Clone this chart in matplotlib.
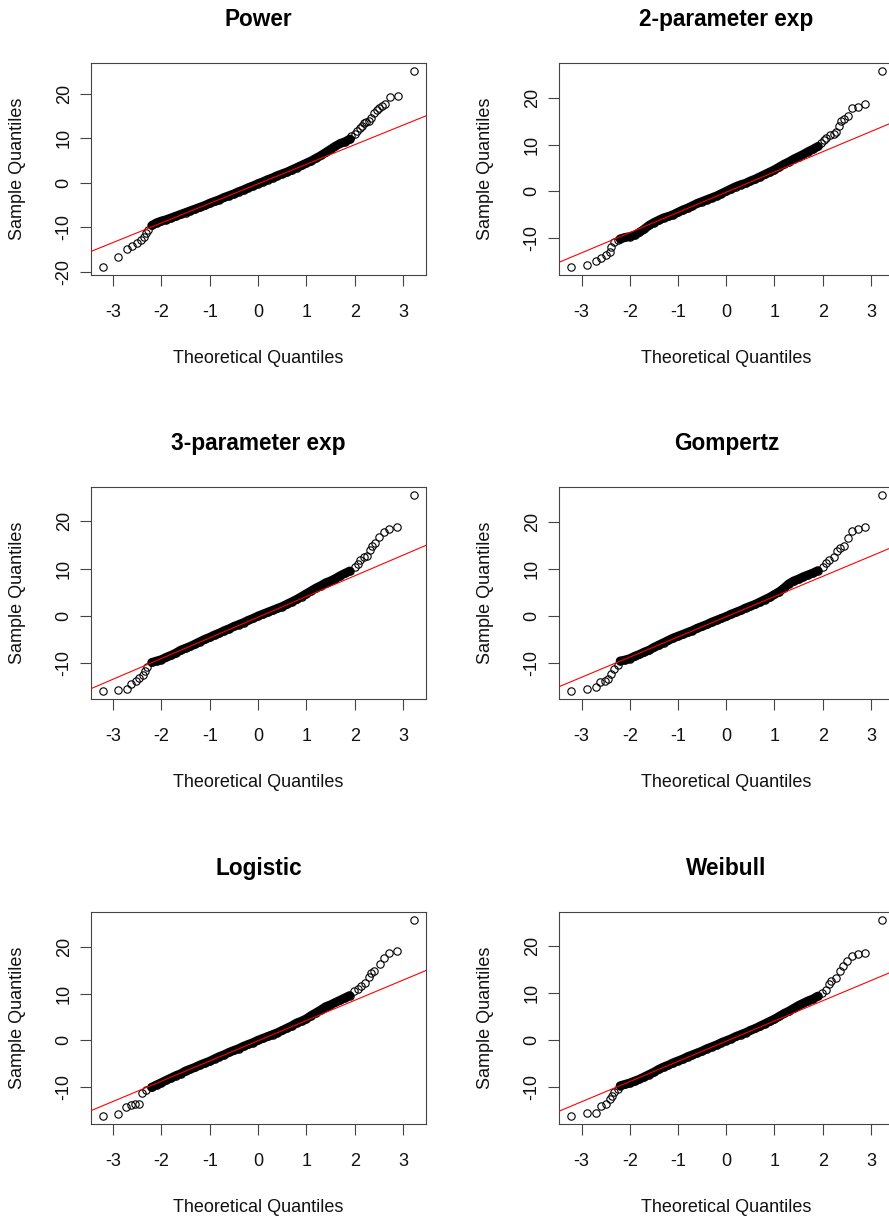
import matplotlib.pyplot as plt
from matplotlib.ticker import MultipleLocator

plt.rcParams["font.family"] = ["Liberation Sans", "DejaVu Sans"]
plt.rcParams["axes.unicode_minus"] = False

titles = ["Power", "2-parameter exp", "3-parameter exp",
          "Gompertz", "Logistic", "Weibull"]

# theoretical quantiles where the dense middle of each residual cloud is read
band_q = [-2.2, -2.1, -2.0, -1.9, -1.8, -1.7, -1.6, -1.5, -1.4, -1.3, -1.2,
          -1.1, -1.0, -0.9, -0.8, -0.7, -0.6, -0.5, -0.4, -0.3, -0.2, -0.1,
          0.0, 0.1, 0.2, 0.3, 0.4, 0.5, 0.6, 0.7, 0.8, 0.9, 1.0, 1.1, 1.2,
          1.3, 1.4, 1.5, 1.6, 1.7, 1.8, 1.9]

# Power
power_band = [-9.6, -9.0, -8.6, -8.3, -7.9, -7.5, -7.1, -6.7, -6.3, -5.9, -5.5,
              -5.1, -4.6, -4.2, -3.8, -3.3, -2.9, -2.5, -2.0, -1.6, -1.1, -0.7,
              -0.2, 0.2, 0.7, 1.1, 1.6, 2.0, 2.4, 2.9, 3.4, 3.9, 4.4, 4.9, 5.5,
              6.1, 6.8, 7.5, 8.2, 8.8, 9.2, 9.8]
power_q = [-3.20, -2.90, -2.72, -2.60, -2.50, -2.43, -2.37, -2.32, -2.27,
           1.93, 2.00, 2.05, 2.11, 2.14, 2.19, 2.24, 2.29, 2.33, 2.40, 2.46,
           2.51, 2.57, 2.62, 2.725, 2.884, 3.216]
power_y = [-18.95, -16.70, -14.91, -14.23, -13.48, -12.88, -12.13, -11.39, -10.64,
           10.5, 10.9, 11.6, 12.2, 12.8, 13.3, 13.7, 13.9, 14.5, 15.7, 16.2,
           16.7, 17.1, 17.6, 19.18, 19.55, 25.09]

# 2-parameter exponential
exp2_band = [-10.2, -9.9, -9.7, -9.4, -8.8, -8.1, -7.3, -6.7, -6.2, -5.7, -5.4,
             -5.0, -4.5, -4.0, -3.6, -3.1, -2.6, -2.2, -1.8, -1.4, -1.0, -0.5,
             0.0, 0.5, 1.0, 1.4, 1.7, 2.2, 2.6, 3.1, 3.6, 4.1, 4.6, 5.2, 5.8,
             6.3, 6.9, 7.4, 7.9, 8.5, 9.0, 9.6]
exp2_q = [-3.21, -2.89, -2.71, -2.59, -2.49, -2.42, -2.38, -2.32, -2.25,
          1.97, 2.02, 2.07, 2.16, 2.23, 2.28, 2.34, 2.38, 2.44, 2.52, 2.60,
          2.73, 2.875, 3.22]
exp2_y = [-16.25, -15.75, -15.03, -14.32, -13.60, -13.03, -11.95, -10.88, -10.38,
          10.24, 10.88, 11.45, 12.03, 12.31, 12.60, 14.03, 15.03, 15.46, 16.18, 17.75,
          18.11, 18.61, 25.77]

# 3-parameter exponential
exp3_band = [-9.8, -9.5, -9.2, -8.7, -8.3, -7.8, -7.2, -6.8, -6.4, -5.9, -5.4,
             -4.9, -4.5, -4.0, -3.6, -3.1, -2.7, -2.2, -1.8, -1.4, -0.9, -0.5,
             0.0, 0.4, 0.8, 1.2, 1.6, 2.0, 2.5, 3.0, 3.5, 4.1, 4.7, 5.3, 5.9,
             6.4, 7.0, 7.4, 7.9, 8.5, 9.0, 9.5]
exp3_q = [-3.20, -2.90, -2.72, -2.62, -2.53, -2.46, -2.39, -2.34, -2.29,
          2.01, 2.07, 2.12, 2.19, 2.26, 2.31, 2.36, 2.43, 2.50, 2.60, 2.72,
          2.88, 3.22]
exp3_y = [-15.85, -15.56, -15.42, -14.30, -13.73, -13.10, -12.39, -11.69, -10.77,
          10.35, 11.06, 11.90, 12.39, 12.75, 14.01, 14.72, 15.42, 16.69, 17.68, 18.38,
          18.80, 25.56]

# Gompertz
gomp_band = [-9.6, -9.4, -9.1, -8.6, -8.2, -7.7, -7.3, -6.7, -6.2, -5.7, -5.2,
             -4.7, -4.3, -3.9, -3.5, -3.1, -2.6, -2.2, -1.8, -1.3, -0.9, -0.5,
             -0.1, 0.4, 0.8, 1.2, 1.7, 2.1, 2.5, 3.0, 3.5, 4.0, 4.6, 5.2, 6.0,
             6.9, 7.5, 7.9, 8.4, 8.8, 9.2, 9.7]
gomp_q = [-3.21, -2.89, -2.71, -2.61, -2.52, -2.45, -2.38, -2.32, -2.25,
          2.00, 2.07, 2.14, 2.23, 2.29, 2.36, 2.44, 2.53, 2.60, 2.73, 2.875,
          3.22]
gomp_y = [-16.04, -15.54, -15.25, -14.11, -13.97, -13.40, -12.33, -11.33, -10.55,
          10.48, 11.33, 12.05, 12.62, 13.83, 14.54, 15.04, 16.68, 18.10, 18.67, 18.96,
          25.87]

# Logistic
logis_band = [-10.1, -9.6, -9.1, -8.6, -8.1, -7.6, -7.2, -6.6, -6.2, -5.8, -5.3,
              -4.9, -4.5, -4.0, -3.5, -3.1, -2.6, -2.2, -1.8, -1.3, -0.9, -0.5,
              0.0, 0.4, 0.8, 1.2, 1.6, 2.1, 2.6, 3.1, 3.7, 4.1, 4.6, 5.3, 5.9,
              6.5, 7.2, 7.6, 8.1, 8.6, 9.1, 9.6]
logis_q = [-3.20, -2.90, -2.73, -2.63, -2.55, -2.46, -2.41, -2.32, -2.22,
           1.98, 2.07, 2.14, 2.22, 2.29, 2.34, 2.41, 2.52, 2.60, 2.72, 2.88,
           3.22]
logis_y = [-16.30, -15.79, -14.29, -13.93, -13.78, -13.78, -11.27, -10.77, -10.05,
           10.48, 10.98, 11.70, 12.20, 13.64, 14.36, 14.93, 16.37, 17.66, 18.74, 19.24,
           25.84]

# Weibull
weib_band = [-9.7, -9.4, -9.1, -8.7, -8.3, -7.8, -7.3, -6.8, -6.2, -5.7, -5.3,
             -4.8, -4.4, -4.0, -3.5, -3.1, -2.7, -2.3, -1.8, -1.4, -1.0, -0.5,
             -0.1, 0.3, 0.8, 1.2, 1.6, 2.1, 2.5, 3.0, 3.5, 4.0, 4.5, 5.1, 5.7,
             6.2, 6.8, 7.4, 7.9, 8.4, 8.8, 9.4]
weib_q = [-3.21, -2.89, -2.71, -2.59, -2.50, -2.41, -2.36, -2.32, -2.25,
          1.99, 2.06, 2.13, 2.18, 2.27, 2.35, 2.43, 2.51, 2.60, 2.73, 2.875,
          3.22]
weib_y = [-16.16, -15.44, -15.44, -14.09, -13.52, -12.60, -11.89, -10.96, -10.32,
          9.96, 10.68, 11.96, 12.53, 13.24, 14.80, 15.87, 16.94, 18.01, 18.36, 18.65,
          25.62]

# qqline of each panel: intercept and slope
line_intercept = [-0.25, -0.2, -0.25, -0.15, -0.12, -0.2]
line_slope = [4.39, 4.33, 4.36, 4.31, 4.34, 4.30]

bands = [power_band, exp2_band, exp3_band, gomp_band, logis_band, weib_band]
tails_q = [power_q, exp2_q, exp3_q, gomp_q, logis_q, weib_q]
tails_y = [power_y, exp2_y, exp3_y, gomp_y, logis_y, weib_y]

W, H = 889, 1219
col_left = [91, 559]
row_top = [63, 487, 912]
ax_w, ax_h = 335, 212
frame_col = "#444444"

fig = plt.figure(figsize=(W / 100, H / 100), dpi=100)

for i, title in enumerate(titles):
    left = col_left[i % 2]
    top = row_top[i // 2]
    ax = fig.add_axes([left / W, 1 - (top + ax_h) / H, ax_w / W, ax_h / H])

    q = band_q + tails_q[i]
    y = bands[i] + tails_y[i]

    # dense overlapping circles in the middle of the distribution
    ax.plot(band_q, bands[i], color="black", lw=6.4, solid_capstyle="round",
            zorder=2)
    ax.plot(q, y, "o", mfc="none", mec="black", ms=5.3, mew=0.8, zorder=3)
    ax.axline((0, line_intercept[i]), slope=line_slope[i], color="red",
              lw=0.8, zorder=4)

    # R-style 4% padding around the data range
    qr = max(q) - min(q)
    yr = max(y) - min(y)
    ax.set_xlim(min(q) - 0.04 * qr, max(q) + 0.04 * qr)
    ax.set_ylim(min(y) - 0.04 * yr, max(y) + 0.04 * yr)

    ax.xaxis.set_major_locator(MultipleLocator(1))
    ax.yaxis.set_major_locator(MultipleLocator(10))
    ax.tick_params(length=7.7, width=0.8, color=frame_col, labelsize=13,
                   labelcolor="#111111")
    ax.tick_params(axis="x", pad=13.3)
    ax.tick_params(axis="y", pad=5.5, labelrotation=90)
    for lab in ax.get_yticklabels():
        lab.set_va("center")
    for sp in ax.spines.values():
        sp.set_color(frame_col)
        sp.set_linewidth(0.8)

    ax.set_xlabel("Theoretical Quantiles", fontsize=13, color="#111111")
    ax.set_ylabel("Sample Quantiles", fontsize=13, color="#111111")
    ax.xaxis.set_label_coords(0.5, -0.353)
    ax.yaxis.set_label_coords(-0.195, 0.5)
    ax.text(0.5, 1.1745, title, transform=ax.transAxes, ha="center",
            va="baseline", fontsize=16.3, fontweight="bold")

fig.savefig("out.png", dpi=100)
plt.close(fig)
